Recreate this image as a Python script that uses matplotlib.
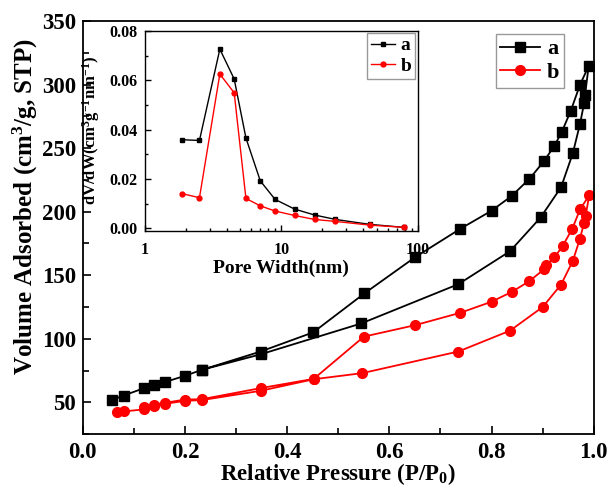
import matplotlib
matplotlib.use('Agg')
import matplotlib.pyplot as plt
from matplotlib.ticker import MultipleLocator

plt.rcParams['font.family'] = 'Liberation Serif'
plt.rcParams['font.weight'] = 'bold'
plt.rcParams['mathtext.fontset'] = 'custom'
plt.rcParams['mathtext.rm'] = 'Liberation Serif:bold'
plt.rcParams['mathtext.it'] = 'Liberation Serif:bold'
plt.rcParams['mathtext.default'] = 'rm'

# isotherm a: adsorption then desorption (relative pressure, volume)
p_a = [0.058, 0.080, 0.120, 0.140, 0.160, 0.200, 0.233, 0.348, 0.545, 0.735,
       0.836, 0.896, 0.936, 0.959, 0.973, 0.981, 0.983, 0.990,
       0.973, 0.955, 0.937, 0.923, 0.903, 0.874, 0.839, 0.800, 0.739, 0.651,
       0.551, 0.451, 0.348, 0.233]
v_a = [52.0, 55.4, 61.2, 63.3, 65.9, 70.9, 75.6, 87.8, 112.1, 143.0,
       168.9, 195.5, 219.3, 246.0, 269.0, 285.2, 292.0, 314.7,
       299.8, 279.4, 262.4, 252.0, 240.0, 225.8, 212.3, 200.8, 186.6, 164.4,
       135.7, 105.1, 90.0, 75.6]

# isotherm b
p_b = [0.067, 0.081, 0.120, 0.140, 0.160, 0.200, 0.233, 0.348, 0.452, 0.547,
       0.735, 0.836, 0.900, 0.936, 0.959, 0.973, 0.981, 0.984, 0.991,
       0.973, 0.958, 0.939, 0.923, 0.907, 0.903, 0.874, 0.840, 0.800, 0.739,
       0.651, 0.550, 0.452, 0.348, 0.233, 0.200, 0.160, 0.140, 0.120]
v_b = [42.1, 42.9, 44.5, 47.5, 48.8, 51.2, 51.8, 59.1, 68.2, 73.0,
       90.0, 106.4, 125.0, 142.7, 161.3, 178.8, 191.3, 196.6, 212.8,
       201.8, 186.6, 173.0, 164.0, 157.9, 154.8, 145.4, 137.0, 129.2, 120.5,
       110.8, 101.7, 68.5, 61.2, 52.5, 52.2, 49.6, 48.3, 46.5]

# pore size distribution (inset)
w = [1.86, 2.51, 3.54, 4.51, 5.50, 7.01, 9.0, 12.5, 17.5, 24.9, 44.5, 78.9]
dv_a = [0.0359, 0.0356, 0.0726, 0.0605, 0.0366, 0.0192, 0.0117, 0.0078,
        0.0054, 0.0036, 0.0016, 0.0004]
dv_b = [0.0141, 0.0124, 0.0625, 0.0549, 0.0121, 0.0091, 0.0070, 0.0052,
        0.0036, 0.0028, 0.0013, 0.0004]

fig = plt.figure(figsize=(6.09, 4.90), dpi=100)
ax = fig.add_axes([0.136, 0.114, 0.839, 0.843])

ax.plot(p_a, v_a, '-s', color='black', lw=1.3, ms=6.5, label='a')
ax.plot(p_b, v_b, '-o', color='red', lw=1.3, ms=7, label='b')

ax.set_xlim(0, 1.0)
ax.set_ylim(25, 350)
ax.xaxis.set_major_locator(MultipleLocator(0.2))
ax.xaxis.set_minor_locator(MultipleLocator(0.1))
ax.yaxis.set_major_locator(MultipleLocator(50))
ax.yaxis.set_minor_locator(MultipleLocator(25))
ax.tick_params(which='both', direction='in', labelsize=16.5, width=1.2)
ax.tick_params(which='major', length=6)
ax.tick_params(which='minor', length=4)
ax.tick_params(axis='x', pad=5.5)
ax.tick_params(axis='y', pad=5)
ax.set_yticks([50, 100, 150, 200, 250, 300, 350])
for s in ax.spines.values():
    s.set_linewidth(1.3)
ax.set_xlabel('Relative Pressure (P/P$_0$)', fontsize=16.5, fontweight='bold', labelpad=-1)
ax.set_ylabel('Volume Adsorbed (cm$^3$/g, STP)', fontsize=18, fontweight='bold')
ax.yaxis.set_label_coords(-0.083, 0.55)
ax.legend(loc='upper left', bbox_to_anchor=(0.808, 0.968), fontsize=16,
          fancybox=False, edgecolor='gray', handlelength=1.8,
          borderpad=0.2, labelspacing=0.15, handletextpad=0.3, borderaxespad=0)

ins = fig.add_axes([0.238, 0.529, 0.448, 0.408])
ins.plot(w, dv_a, '-s', color='black', lw=1.0, ms=3.5, label='a')
ins.plot(w, dv_b, '-o', color='red', lw=1.0, ms=3.5, label='b')
ins.set_xscale('log')
ins.set_xlim(1, 100)
ins.set_ylim(-0.001, 0.08)
ins.yaxis.set_major_locator(MultipleLocator(0.02))
ins.yaxis.set_minor_locator(MultipleLocator(0.01))
ins.set_yticks([0.0, 0.02, 0.04, 0.06, 0.08])
ins.set_yticklabels(['0.00', '0.02', '0.04', '0.06', '0.08'])
ins.set_xticks([1, 10, 100])
ins.set_xticklabels(['1', '10', '100'])
ins.tick_params(which='both', direction='in', labelsize=11.5, width=1.0)
ins.tick_params(which='major', length=4)
ins.tick_params(which='minor', length=2.5)
ins.tick_params(axis='x', pad=8)
ins.tick_params(axis='y', pad=5)
for s in ins.spines.values():
    s.set_linewidth(1.0)
ins.set_xlabel('Pore Width(nm)', fontsize=14, fontweight='bold', labelpad=1)
ins.set_ylabel('dV/dW(cm$^3$g$^{-1}$nm$^{-1}$)', fontsize=12, fontweight='bold')
ins.yaxis.set_label_coords(-0.158, 0.5)
ins.legend(loc='upper left', bbox_to_anchor=(0.815, 0.99), fontsize=14,
           fancybox=False, edgecolor='gray', handlelength=1.2, borderaxespad=0,
           borderpad=0.2, labelspacing=0.15, handletextpad=0.3)

fig.savefig('out.png', dpi=100)
